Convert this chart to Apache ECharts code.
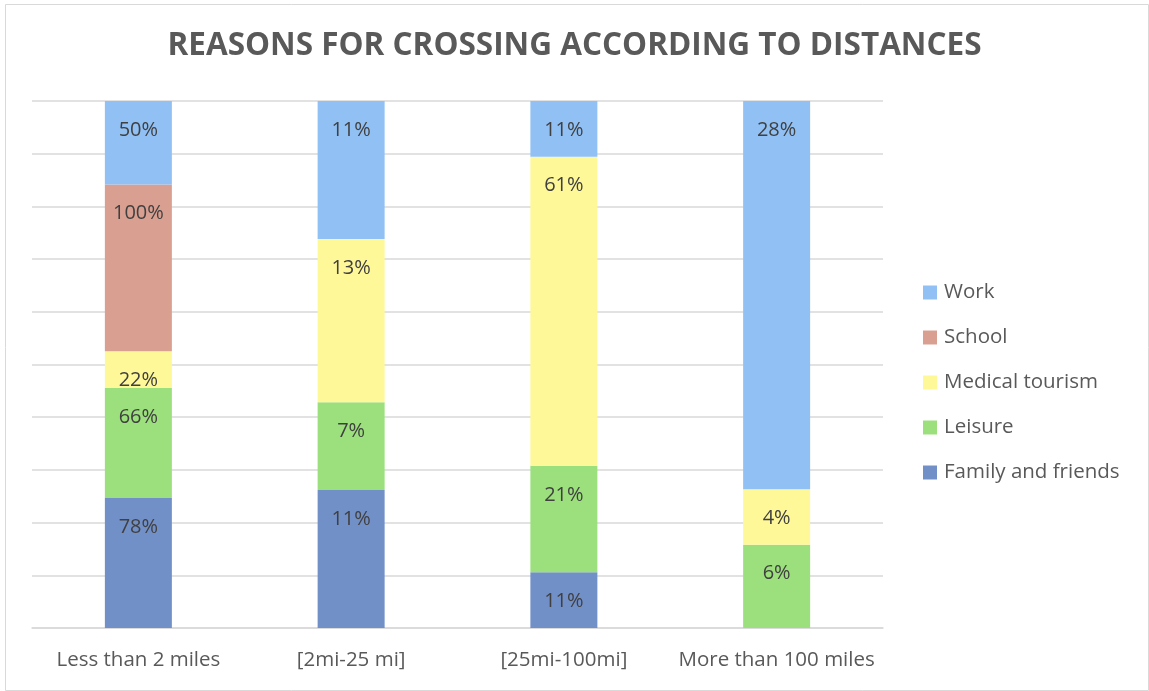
<!DOCTYPE html>
<html>
<head>
<meta charset="utf-8">
<script src="https://cdn.jsdelivr.net/npm/echarts@6/dist/echarts.min.js"></script>
<style>
html,body{margin:0;padding:0;background:#fff;}
#chart{width:1149px;height:691px;}
</style>
</head>
<body>
<div id="chart"></div>
<script>
const categories = ['Less than 2 miles', '[2mi-25 mi]', '[25mi-100mi]', 'More than 100 miles'];
const familyFriends = [78, 11, 11, null];
const leisure = [66, 7, 21, 6];
const medicalTourism = [22, 13, 61, 4];
const school = [100, null, null, null];
const work = [50, 11, 11, 28];
const legendOrder = ['Work', 'School', 'Medical tourism', 'Leisure', 'Family and friends'];

const FONT = '"Open Sans", "Noto Sans", sans-serif';
const seriesDefs = [
  {name: 'Family and friends', data: familyFriends, color: '#7290c8'},
  {name: 'Leisure', data: leisure, color: '#9be07c'},
  {name: 'Medical tourism', data: medicalTourism, color: '#fff899'},
  {name: 'School', data: school, color: '#d9a092'},
  {name: 'Work', data: work, color: '#91c0f4'}
];
const totals = categories.map((c, i) => seriesDefs.reduce((s, d) => s + (d.data[i] || 0), 0));

const chart = echarts.init(document.getElementById('chart'), null, {renderer: 'canvas'});
chart.setOption({
  animation: false,
  backgroundColor: '#fff',
  title: {
    text: 'REASONS FOR CROSSING ACCORDING TO DISTANCES',
    left: 'center', top: 25,
    textStyle: {fontFamily: FONT, fontWeight: 'bold', fontSize: 31.5, color: '#595959'}
  },
  graphic: [{
    type: 'rect', left: 3, top: 2, shape: {width: 1143, height: 686},
    style: {fill: 'none', stroke: '#d9d9d9', lineWidth: 1}, silent: true
  }],
  legend: {
    orient: 'vertical', left: 918, top: 277, itemWidth: 14, itemHeight: 14, itemGap: 24,
    icon: 'rect', data: legendOrder,
    textStyle: {fontFamily: FONT, fontSize: 20.5, color: '#595959', padding: [0,0,0,2]}
  },
  grid: {left: 32, right: 266, top: 101, bottom: 63, containLabel: false},
  xAxis: {
    type: 'category', data: categories,
    axisLine: {lineStyle: {color: '#d9d9d9', width: 1.5}},
    axisTick: {show: false},
    axisLabel: {interval: 0, fontFamily: FONT, fontSize: 20.5, color: '#595959', margin: 22}
  },
  yAxis: {
    type: 'value', min: 0, max: 100, interval: 10,
    axisLabel: {show: false}, axisLine: {show: false}, axisTick: {show: false},
    splitLine: {lineStyle: {color: '#d9d9d9', width: 1.5}}
  },
  series: seriesDefs.map(d => ({
    name: d.name, type: 'bar', stack: 'total', barWidth: 67,
    itemStyle: {color: d.color},
    label: {
      show: true, position: 'insideTop', distance: 19,
      fontFamily: FONT, fontSize: 20, color: '#404040',
      formatter: p => d.data[p.dataIndex] + '%'
    },
    data: d.data.map((v, i) => v == null ? null : v / totals[i] * 100)
  }))
});
</script>
</body>
</html>
